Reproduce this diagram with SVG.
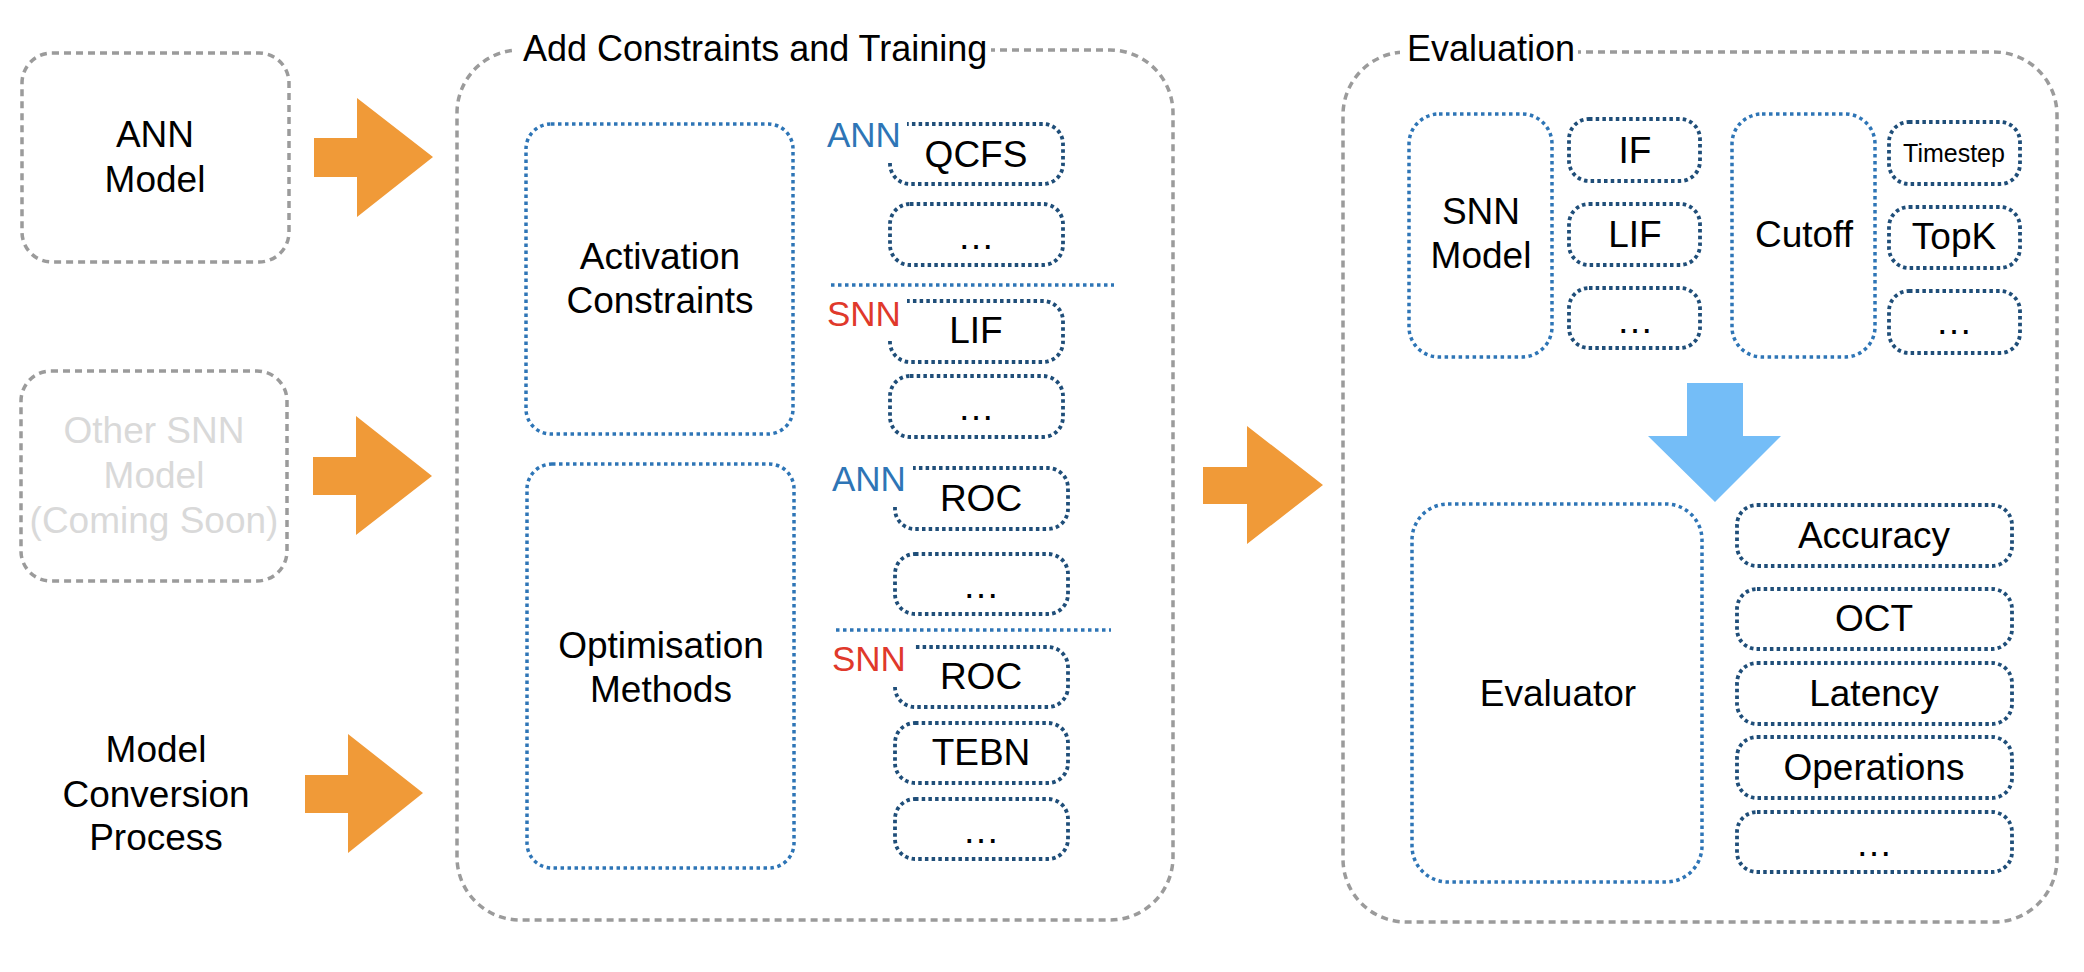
<svg xmlns="http://www.w3.org/2000/svg" width="2084" height="972" viewBox="0 0 2084 972">
<style>
text{font-family:"Liberation Sans",Arial,Helvetica,sans-serif;fill:#000;text-anchor:middle}
.t{font-size:37px}
.ttl{font-size:36px;text-anchor:start}
.grey{fill:none;stroke:#9b9b9b;stroke-width:3.5;stroke-dasharray:7 5}
.big{fill:none;stroke:#2e75b6;stroke-width:3.5;stroke-dasharray:3.5 3.5}
.sm{fill:none;stroke:#1f4e79;stroke-width:3.8;stroke-dasharray:3.5 3.2}
.sep{stroke:#2e75b6;stroke-width:3.5;stroke-dasharray:3.5 3.5}
.orange{fill:#f09a38}
.ann{font-size:35px;fill:#2e75b6;text-anchor:start}
.snn{font-size:35px;fill:#e0392b;text-anchor:start}
.soon{fill:#d9d9d9}
</style>
<rect width="2084" height="972" fill="#fff"/>

<g id="ann-model">
<rect class="grey" x="22" y="53" width="267" height="209" rx="30"/>
<text class="t" x="155" y="147">ANN</text>
<text class="t" x="155" y="192">Model</text>
</g>
<g id="other-snn">
<rect class="grey" x="21" y="371" width="266" height="210" rx="30"/>
<text class="t soon" x="154" y="443">Other SNN</text>
<text class="t soon" x="154" y="488">Model</text>
<text class="t soon" x="154" y="533">(Coming Soon)</text>
</g>
<g id="conversion">
<text class="t" x="156" y="762">Model</text>
<text class="t" x="156" y="807">Conversion</text>
<text class="t" x="156" y="850">Process</text>
</g>

<g id="training">
<rect class="grey" x="457" y="50" width="716" height="870" rx="63"/>
<rect x="514" y="40" width="477" height="22" fill="#fff"/>
<text class="ttl" x="523" y="61">Add Constraints and Training</text>
</g>
<g id="activation">
<rect class="big" x="526" y="124" width="267" height="310" rx="25"/>
<text class="t" x="660" y="269">Activation</text>
<text class="t" x="660" y="313">Constraints</text>
</g>
<g id="optimisation">
<rect class="big" x="527" y="464" width="267" height="404" rx="25"/>
<text class="t" x="661" y="658">Optimisation</text>
<text class="t" x="661" y="702">Methods</text>
</g>
<g id="qcfs">
<path class="sm" d="M890,163 V164 A20,20 0 0 0 910,184 H1043 A20,20 0 0 0 1063,164 V144 A20,20 0 0 0 1043,124 H907"/>
<text class="ann" x="827" y="147">ANN</text>
<text class="t" x="976" y="167">QCFS</text>
</g>
<g id="act-ann-more">
<rect class="sm" x="890" y="204" width="173" height="61" rx="20"/>
<text class="t" x="976" y="249">…</text>
</g>
<line class="sep" x1="831" y1="285" x2="1114" y2="285"/>
<g id="lif-act">
<path class="sm" d="M890,341 A20,20 0 0 0 910,362 H1043 A20,20 0 0 0 1063,342 V321 A20,20 0 0 0 1043,301 H907"/>
<text class="snn" x="827" y="326">SNN</text>
<text class="t" x="976" y="343">LIF</text>
</g>
<g id="act-snn-more">
<rect class="sm" x="890" y="376" width="173" height="61" rx="20"/>
<text class="t" x="976" y="420">…</text>
</g>
<g id="roc-ann">
<path class="sm" d="M895,507 V509 A20,20 0 0 0 915,529 H1048 A20,20 0 0 0 1068,509 V488 A20,20 0 0 0 1048,468 H913"/>
<text class="ann" x="832" y="491">ANN</text>
<text class="t" x="981" y="511">ROC</text>
</g>
<g id="opt-ann-more">
<rect class="sm" x="895" y="554" width="173" height="60" rx="20"/>
<text class="t" x="981" y="598">…</text>
</g>
<line class="sep" x1="836" y1="630" x2="1111" y2="630"/>
<g id="roc-snn">
<path class="sm" d="M895,687 A20,20 0 0 0 915,707 H1048 A20,20 0 0 0 1068,687 V667 A20,20 0 0 0 1048,647 H913"/>
<text class="snn" x="832" y="671">SNN</text>
<text class="t" x="981" y="689">ROC</text>
</g>
<g id="tebn">
<rect class="sm" x="895" y="723" width="173" height="60" rx="20"/>
<text class="t" x="981" y="765">TEBN</text>
</g>
<g id="opt-snn-more">
<rect class="sm" x="895" y="799" width="173" height="60" rx="20"/>
<text class="t" x="981" y="843">…</text>
</g>

<g id="evaluation">
<rect class="grey" x="1343" y="52" width="714" height="870" rx="63"/>
<rect x="1400" y="40" width="178" height="24" fill="#fff"/>
<text class="ttl" x="1407" y="61">Evaluation</text>
</g>
<g id="snn-model">
<rect class="big" x="1409" y="114" width="143" height="243" rx="30"/>
<text class="t" x="1481" y="224">SNN</text>
<text class="t" x="1481" y="268">Model</text>
</g>
<g id="if">
<rect class="sm" x="1569" y="119" width="131" height="62" rx="20"/>
<text class="t" x="1635" y="163">IF</text>
</g>
<g id="lif">
<rect class="sm" x="1569" y="204" width="131" height="61" rx="20"/>
<text class="t" x="1635" y="247">LIF</text>
</g>
<g id="neuron-more">
<rect class="sm" x="1569" y="288" width="131" height="60" rx="20"/>
<text class="t" x="1635" y="333">…</text>
</g>
<g id="cutoff">
<rect class="big" x="1732" y="114" width="143" height="243" rx="30"/>
<text class="t" x="1804" y="247">Cutoff</text>
</g>
<g id="timestep">
<rect class="sm" x="1889" y="122" width="131" height="62" rx="20"/>
<text x="1954" y="162" style="font-size:25px">Timestep</text>
</g>
<g id="topk">
<rect class="sm" x="1889" y="207" width="131" height="61" rx="20"/>
<text class="t" x="1954" y="249">TopK</text>
</g>
<g id="cutoff-more">
<rect class="sm" x="1889" y="291" width="131" height="62" rx="20"/>
<text class="t" x="1954" y="334">…</text>
</g>
<g id="evaluator">
<rect class="big" x="1412" y="504" width="290" height="378" rx="36"/>
<text class="t" x="1558" y="706">Evaluator</text>
</g>
<g id="accuracy">
<rect class="sm" x="1737" y="505" width="275" height="61" rx="20"/>
<text class="t" x="1874" y="548">Accuracy</text>
</g>
<g id="oct">
<rect class="sm" x="1737" y="589" width="275" height="60" rx="20"/>
<text class="t" x="1874" y="631">OCT</text>
</g>
<g id="latency">
<rect class="sm" x="1737" y="663" width="275" height="61" rx="20"/>
<text class="t" x="1874" y="706">Latency</text>
</g>
<g id="operations">
<rect class="sm" x="1737" y="737" width="275" height="61" rx="20"/>
<text class="t" x="1874" y="780">Operations</text>
</g>
<g id="metric-more">
<rect class="sm" x="1737" y="812" width="275" height="60" rx="20"/>
<text class="t" x="1874" y="856">…</text>
</g>

<g id="connectors">
<polygon class="orange" points="314,138 357,138 357,98 433,157 357,217 357,177 314,177"/>
<polygon class="orange" points="313,457 356,457 356,416 432,476 356,535 356,495 313,495"/>
<polygon class="orange" points="305,775 348,775 348,734 423,793 348,853 348,813 305,813"/>
<polygon class="orange" points="1203,467 1247,467 1247,426 1323,485 1247,544 1247,504 1203,504"/>
<polygon fill="#74bdf7" points="1687,383 1743,383 1743,436 1781,436 1715,502 1648,436 1687,436"/>
</g>
</svg>
